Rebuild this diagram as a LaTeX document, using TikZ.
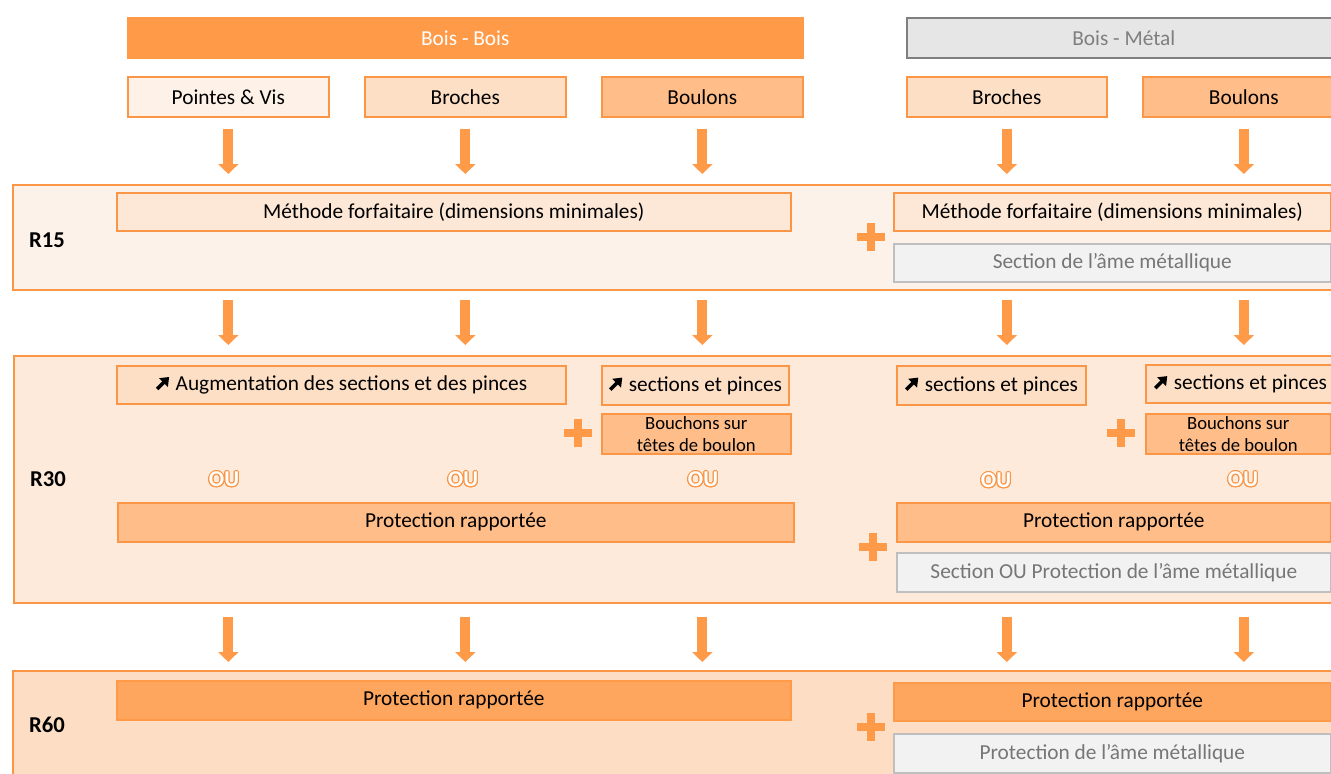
\documentclass[tikz,border=0pt]{standalone}
\usepackage{fontspec}
\setmainfont{Carlito}
\usepackage{contour}
\usetikzlibrary{arrows.meta}
\definecolor{ora}{RGB}{250,150,70}
\definecolor{orb}{RGB}{255,154,72}
\definecolor{p15}{RGB}{253,242,233}
\definecolor{p30}{RGB}{253,234,218}
\definecolor{p60}{RGB}{253,222,196}
\definecolor{fc1}{RGB}{254,242,232}
\definecolor{fc2}{RGB}{253,223,198}
\definecolor{fm}{RGB}{253,231,214}
\definecolor{fc3}{RGB}{255,189,137}
\definecolor{fc4}{RGB}{255,166,94}
\definecolor{gfill}{RGB}{242,242,242}
\definecolor{gline}{RGB}{191,191,191}
\definecolor{gtext}{RGB}{118,118,118}
\definecolor{hgfill}{RGB}{230,230,230}
\definecolor{hgline}{RGB}{127,127,127}
\newsavebox{\nebx}
\newcommand{\bx}[7]{\node[#2, minimum width={(#5-#3)*0.75pt}, minimum height={(#6-#4)*0.75pt}] (#1) at (#3,#4) {#7};}
\newcommand{\plusmark}[2]{\draw[plusst] (#1,#2) +(-14,0) -- +(14,0) +(0,-14) -- +(0,14);}
\newcommand{\ou}{\contour{ora}{\textcolor{white}{\textbf{OU}}}}
\contourlength{0.8pt}
\tikzset{
  basebox/.style={line width=1.2pt, inner sep=0pt, anchor=north west, align=center,
    font=\fontsize{16}{19}\selectfont, text=black},
  hbois/.style={basebox, draw=orb, fill=orb, text=white},
  hmetal/.style={basebox, draw=hgline, fill=hgfill, text=hgline},
  c1/.style={basebox, draw=ora, fill=fc1},
  c2/.style={basebox, draw=ora, fill=fc2},
  c3/.style={basebox, draw=ora, fill=fc3},
  c4/.style={basebox, draw=orb, fill=fc4},
  mbox/.style={basebox, draw=ora, fill=fm},
  gbox/.style={basebox, draw=gline, fill=gfill, text=gtext},
  bouch/.style={font=\fontsize{14}{16.5}\selectfont},
  panel/.style={line width=1.2pt, draw=ora, anchor=north west, inner sep=0pt},
  rlab/.style={font=\fontsize{17}{20}\selectfont\bfseries, text=black, inner sep=0pt},
  oulab/.style={font=\fontsize{17}{20}\selectfont, inner sep=0pt},
  barrow/.style={draw=orb, line width=7.5pt, -{Triangle[length=7.5pt,width=15pt]}},
  plusst/.style={draw=orb, line width=6pt},
}
\begin{document}
\sbox{\nebx}{\begin{pgfpicture}\pgfsetlinewidth{2.6pt}\pgfsetarrowsend{Triangle[length=6pt,width=9pt]}\pgfpathmoveto{\pgfpoint{0pt}{0pt}}\pgfpathlineto{\pgfpoint{9pt}{9pt}}\pgfusepath{stroke}\end{pgfpicture}}
\begin{tikzpicture}[x=0.75pt,y=-0.75pt]
\useasboundingbox (0,0) rectangle (1331,774);
% panels
\bx{r15}{panel, fill=p15}{12}{184}{1345}{289}{}
\bx{r30}{panel, fill=p30}{13}{355}{1345}{602}{}
\bx{r60}{panel, fill=p60}{12}{670}{1345}{790}{}
\node[rlab] (l15) at (47,240) {R15};
\node[rlab] (l30) at (48,479) {R30};
\node[rlab] (l60) at (47,725) {R60};
% headers
\bx{hbb}{hbois}{127}{17}{802}{57}{Bois - Bois}
\bx{hbm}{hmetal}{906}{17}{1340}{57}{Bois - Métal}
% fasteners
\bx{pv}{c1}{127}{76}{328}{116}{Pointes \& Vis}
\bx{br}{c2}{364}{76}{565}{116}{Broches}
\bx{bo}{c3}{601}{76}{802}{116}{Boulons}
\bx{mbr}{c2}{906}{76}{1106}{116}{Broches}
\bx{mbo}{c3}{1142}{76}{1344}{116}{Boulons}
% R15
\bx{mf}{mbox}{116}{192}{790}{230}{Méthode forfaitaire (dimensions minimales)}
\bx{mmf}{mbox}{893}{192}{1330}{230}{Méthode forfaitaire (dimensions minimales)}
\bx{msec}{gbox}{893}{243}{1330}{281}{Section de l’âme métallique}
\plusmark{871}{237}
% R30
\bx{aug}{c2}{116}{365}{565}{403}{\usebox{\nebx}\ Augmentation des sections et des pinces}
\bx{sp3}{c2}{601}{365}{788}{404}{\usebox{\nebx}\ sections et pinces}
\bx{bh3}{c3, bouch}{601}{413}{790}{453}{Bouchons sur\\têtes de boulon}
\plusmark{578}{433}
\bx{sp4}{c2}{896}{365}{1085}{404}{\usebox{\nebx}\ sections et pinces}
\bx{sp5}{c2}{1145}{364}{1334}{402}{\usebox{\nebx}\ sections et pinces}
\bx{bh5}{c3, bouch}{1145}{413}{1330}{453}{Bouchons sur\\têtes de boulon}
\plusmark{1121}{433}
\node[oulab] (ou1) at (224,480) {\ou};
\node[oulab] (ou2) at (463,480) {\ou};
\node[oulab] (ou3) at (703,480) {\ou};
\node[oulab] (ou4) at (996,481) {\ou};
\node[oulab] (ou5) at (1243,480) {\ou};
\bx{pr30}{c3}{117}{502}{793}{541}{Protection rapportée}
\bx{mpr30}{c3}{896}{502}{1330}{541}{Protection rapportée}
\plusmark{873}{547}
\bx{msec30}{gbox}{896}{552}{1330}{591}{Section OU Protection de l’âme métallique}
% R60
\bx{pr60}{c4}{116}{680}{790}{719}{Protection rapportée}
\bx{mpr60}{c4}{893}{682}{1330}{720}{Protection rapportée}
\plusmark{871}{727}
\bx{msec60}{gbox}{893}{733}{1330}{772}{Protection de l’âme métallique}
% arrows
\foreach \c in {pv,br,bo,mbr,mbo}{
  \draw[barrow, shorten <=8.25pt, shorten >=7.5pt] (\c.south) -- (\c.south |- r15.north);
  \draw[barrow, shorten <=6.75pt, shorten >=7.5pt] (\c.south |- r15.south) -- (\c.south |- r30.north);
  \draw[barrow, shorten <=9.75pt, shorten >=6pt] (\c.south |- r30.south) -- (\c.south |- r60.north);
}
\end{tikzpicture}
\end{document}
